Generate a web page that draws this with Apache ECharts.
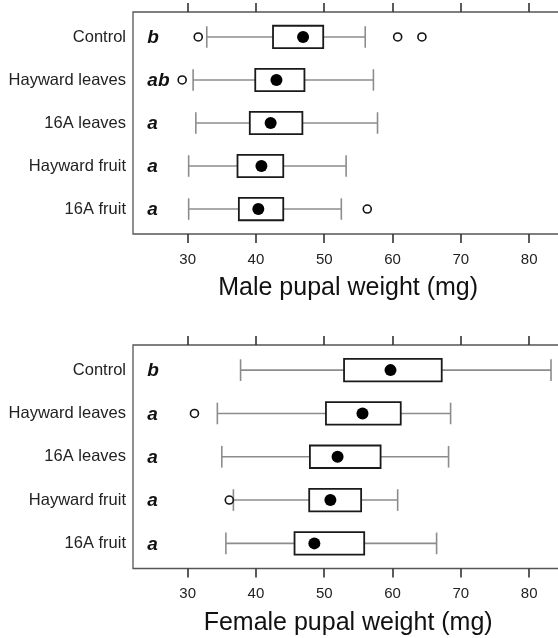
<!DOCTYPE html>
<html>
<head>
<meta charset="utf-8">
<script src="https://cdn.jsdelivr.net/npm/echarts@6/dist/echarts.min.js"></script>
<style>
html,body{margin:0;padding:0;background:#fff;}
#chart{width:558px;height:638px;}
</style>
</head>
<body>
<div id="chart"></div>
<script>
const categories = ['Control', 'Hayward leaves', '16A leaves', 'Hayward fruit', '16A fruit'];
const xTicks = [30, 40, 50, 60, 70, 80];

// [whisker low, Q1, median, Q3, whisker high]
const maleBoxes = [
  [32.8, 42.5, 46.9, 49.85, 56.0],
  [30.8, 39.9, 43.0, 47.1, 57.2],
  [31.2, 39.1, 42.15, 46.8, 57.8],
  [30.15, 37.3, 40.8, 44.0, 53.2],
  [30.15, 37.5, 40.35, 44.0, 52.5]
];
const maleOutliers = [[31.55, 0], [60.75, 0], [64.3, 0], [29.2, 1], [56.3, 4]];
const maleLetters = ['b', 'ab', 'a', 'a', 'a'];

const femaleBoxes = [
  [37.75, 52.9, 59.7, 67.2, 83.2],
  [34.35, 50.25, 55.6, 61.2, 68.5],
  [35.0, 47.9, 51.95, 58.25, 68.2],
  [36.7, 47.8, 50.9, 55.4, 60.75],
  [35.6, 45.65, 48.55, 55.85, 66.45]
];
const femaleOutliers = [[31.0, 1], [36.1, 3]];
const femaleLetters = ['b', 'a', 'a', 'a', 'a'];

const titles = ['Male pupal weight (mg)', 'Female pupal weight (mg)'];

const FONT = '"Liberation Sans", Arial, Helvetica, sans-serif';
const LETTER_X = 24.1;

function boxRender(params, api) {
  const idx = api.value(0);
  const lo = api.coord([api.value(1), idx]);
  const q1 = api.coord([api.value(2), idx]);
  const md = api.coord([api.value(3), idx]);
  const q3 = api.coord([api.value(4), idx]);
  const hi = api.coord([api.value(5), idx]);
  const unit = api.size([0, 1])[1];
  const h = unit * 0.26;
  const ch = unit * 0.25;
  const y = md[1];
  const grey = {stroke: '#8c8c8c', lineWidth: 1.6};
  return {
    type: 'group',
    children: [
      {type: 'line', shape: {x1: lo[0], y1: y, x2: q1[0], y2: y}, style: grey},
      {type: 'line', shape: {x1: q3[0], y1: y, x2: hi[0], y2: y}, style: grey},
      {type: 'line', shape: {x1: lo[0], y1: y - ch, x2: lo[0], y2: y + ch}, style: grey},
      {type: 'line', shape: {x1: hi[0], y1: y - ch, x2: hi[0], y2: y + ch}, style: grey},
      {type: 'rect', shape: {x: q1[0], y: y - h, width: q3[0] - q1[0], height: 2 * h},
        style: {fill: '#fff', stroke: '#1a1a1a', lineWidth: 1.8}},
      {type: 'circle', shape: {cx: md[0], cy: y, r: 6}, style: {fill: '#000'}}
    ]
  };
}

function letterRender(letters) {
  return function (params, api) {
    const idx = api.value(0);
    const p = api.coord([LETTER_X, idx]);
    return {
      type: 'text',
      style: {
        text: letters[idx], x: p[0], y: p[1] + 1,
        align: 'left', verticalAlign: 'middle',
        font: 'italic bold 19px ' + FONT, fill: '#111'
      }
    };
  };
}

const grids = [
  {left: 133, width: 430.3, top: 12, height: 222, show: true, borderColor: '#555', borderWidth: 1.3,
   backgroundColor: 'transparent', outerBoundsMode: 'none', containLabel: false},
  {left: 133, width: 430.3, top: 345, height: 223.5, show: true, borderColor: '#555', borderWidth: 1.3,
   backgroundColor: 'transparent', outerBoundsMode: 'none', containLabel: false}
];

const xAxes = [];
const yAxes = [];
const series = [];
const boxSets = [maleBoxes, femaleBoxes];
const outSets = [maleOutliers, femaleOutliers];
const letterSets = [maleLetters, femaleLetters];

for (let g = 0; g < 2; g++) {
  xAxes.push({
    type: 'value', gridIndex: g, position: 'bottom', min: 22, max: 85,
    axisLine: {show: false, onZero: false}, splitLine: {show: false},
    axisTick: {show: true, customValues: xTicks, length: 9, lineStyle: {color: '#333', width: 1.6}},
    axisLabel: {show: true, customValues: xTicks, margin: 18, fontSize: 15, color: '#222', fontFamily: FONT},
    name: titles[g], nameLocation: 'middle', nameGap: 42,
    nameTextStyle: {fontSize: 25, color: '#111', fontFamily: FONT}
  });
  xAxes.push({
    type: 'value', gridIndex: g, position: 'top', min: 22, max: 85,
    axisLine: {show: false, onZero: false}, splitLine: {show: false},
    axisTick: {show: true, customValues: xTicks, length: 9, lineStyle: {color: '#333', width: 1.6}},
    axisLabel: {show: false}
  });
  yAxes.push({
    type: 'value', gridIndex: g, inverse: true, min: -0.58, max: 4.58,
    axisLine: {show: false, onZero: false}, axisTick: {show: false}, splitLine: {show: false},
    axisLabel: {
      show: true, customValues: [0, 1, 2, 3, 4], margin: 7,
      fontSize: 16.5, color: '#222', fontFamily: FONT, padding: [4, 0, 0, 0],
      formatter: function (v) { return categories[Math.round(v)] || ''; }
    }
  });

  const boxData = boxSets[g].map((b, i) => [i].concat(b));
  series.push({
    type: 'custom', xAxisIndex: g * 2, yAxisIndex: g,
    renderItem: boxRender, data: boxData,
    encode: {x: [1, 2, 3, 4, 5], y: 0}, clip: false, silent: true
  });
  series.push({
    type: 'scatter', xAxisIndex: g * 2, yAxisIndex: g,
    data: outSets[g], symbol: 'circle', symbolSize: 8,
    itemStyle: {color: '#fff', borderColor: '#111', borderWidth: 1.6, opacity: 1},
    silent: true
  });
  series.push({
    type: 'custom', xAxisIndex: g * 2, yAxisIndex: g,
    renderItem: letterRender(letterSets[g]),
    data: letterSets[g].map((l, i) => [i, LETTER_X]),
    encode: {x: 1, y: 0}, clip: false, silent: true
  });
}

const chart = echarts.init(document.getElementById('chart'), null, {renderer: 'canvas'});
chart.setOption({
  animation: false,
  backgroundColor: '#fff',
  grid: grids,
  xAxis: xAxes,
  yAxis: yAxes,
  series: series
});
</script>
</body>
</html>
